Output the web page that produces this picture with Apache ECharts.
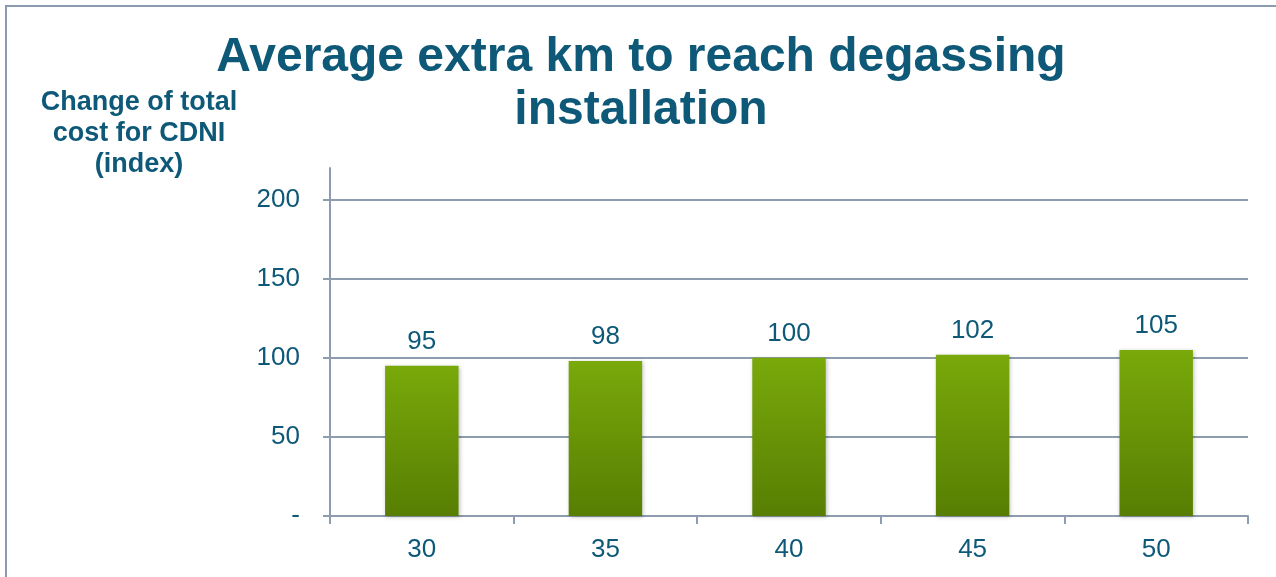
<!DOCTYPE html>
<html>
<head>
<meta charset="utf-8">
<title>Average extra km to reach degassing installation</title>
<script src="https://cdn.jsdelivr.net/npm/echarts@6/dist/echarts.min.js"></script>
<style>
html, body { margin: 0; padding: 0; background: #fff; }
.frame {
  position: absolute;
  left: 5px;
  top: 5px;
  width: 1300px;
  height: 600px;
  border-left: 2px solid #8a9bb0;
  border-top: 2px solid #8a9bb0;
}
#chart { position: absolute; left: 0; top: 0; width: 1276px; height: 577px; }
</style>
</head>
<body>
<div class="frame"></div>
<div id="chart"></div>
<script>
// extra km categories and cost index
const kmCategories = ['30', '35', '40', '45', '50']
const costIndex = [95, 98, 100, 102, 105]

const textColor = '#0e5878'
const lineColor = '#8d9cae'
const font = 'Liberation Sans, Arial, sans-serif'

let chart = echarts.init(document.getElementById('chart'))

let option = {
  animation: false,
  title: [
    {
      text: 'Average extra km to reach degassing\ninstallation',
      left: 636,
      top: 26,
      textAlign: 'center',
      textStyle: {
        fontFamily: font,
        fontSize: 48,
        fontWeight: 'bold',
        color: textColor,
        lineHeight: 53
      }
    },
    {
      text: 'Change of total\ncost for CDNI\n(index)',
      left: 134,
      top: 82,
      textAlign: 'center',
      textStyle: {
        fontFamily: font,
        fontSize: 27,
        fontWeight: 'bold',
        color: textColor,
        lineHeight: 31
      }
    }
  ],
  grid: {
    left: 330,
    right: 28,
    top: 168,
    bottom: 61
  },
  xAxis: {
    type: 'category',
    data: kmCategories,
    axisLine: { lineStyle: { color: lineColor, width: 2 } },
    axisTick: { show: true, length: 8, lineStyle: { color: lineColor, width: 2 } },
    axisLabel: {
      margin: 21,
      fontFamily: font,
      fontSize: 26,
      color: textColor
    }
  },
  yAxis: {
    type: 'value',
    min: 0,
    max: 220,
    interval: 50,
    axisLine: { show: true, lineStyle: { color: lineColor, width: 2 } },
    axisTick: { show: true, length: 7, lineStyle: { color: lineColor, width: 2 } },
    axisLabel: {
      margin: 30,
      showMaxLabel: false,
      fontFamily: font,
      fontSize: 26,
      color: textColor,
      formatter: function(v) {
        return v === 0 ? '-' : String(v)
      }
    },
    splitLine: {
      show: true,
      lineStyle: {
        width: 2,
        color: [lineColor, lineColor, lineColor, lineColor, lineColor, 'rgba(0,0,0,0)']
      }
    }
  },
  series: [
    {
      type: 'bar',
      data: costIndex,
      barWidth: '40%',
      itemStyle: {
        color: new echarts.graphic.LinearGradient(0, 0, 0, 1, [
          { offset: 0, color: '#79a90a' },
          { offset: 1, color: '#577e03' }
        ]),
        shadowColor: 'rgba(0,0,0,0.25)',
        shadowBlur: 4,
        shadowOffsetX: 1,
        shadowOffsetY: 1
      },
      label: {
        show: true,
        position: 'top',
        distance: 11,
        fontFamily: font,
        fontSize: 26,
        color: textColor
      }
    }
  ]
}

chart.setOption(option)
</script>
</body>
</html>
